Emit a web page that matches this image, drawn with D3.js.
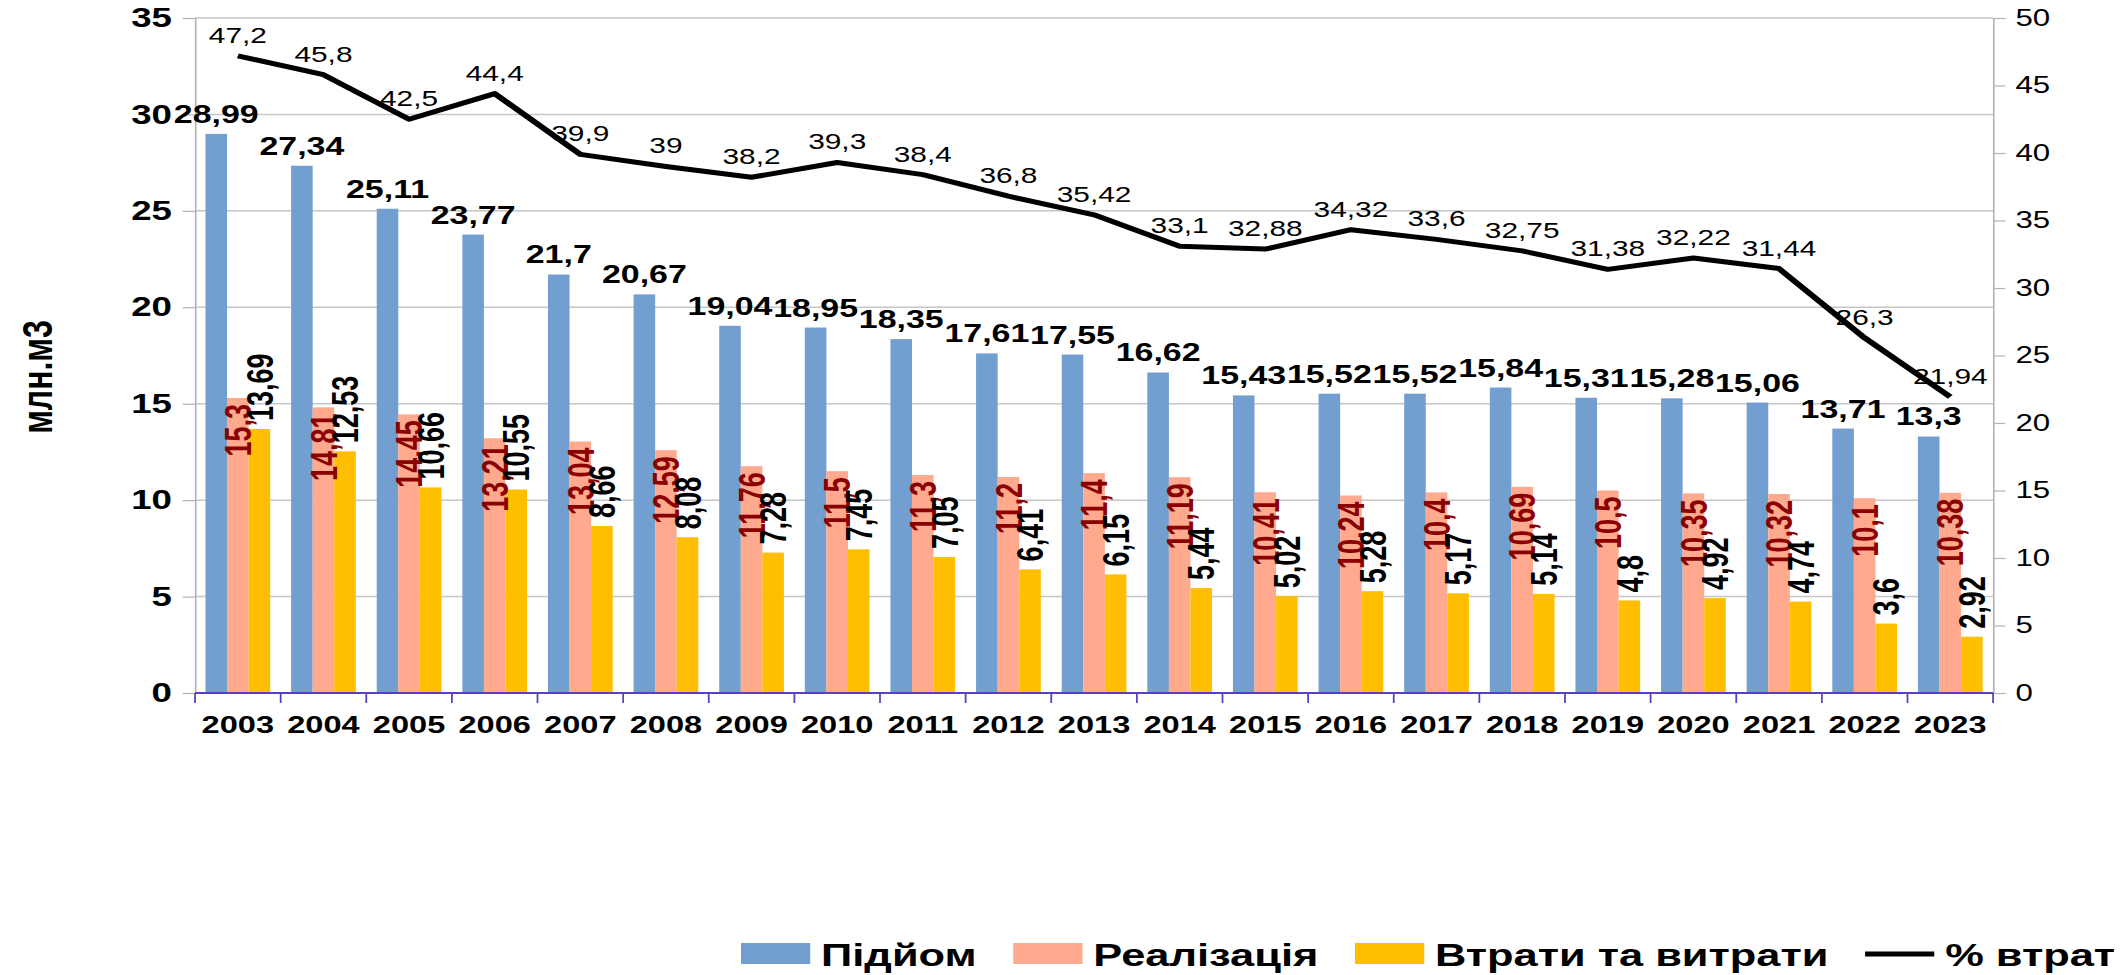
<!DOCTYPE html>
<html>
<head>
<meta charset="utf-8">
<script src="https://cdn.jsdelivr.net/npm/d3@7"></script>
<style>
  html, body { margin: 0; padding: 0; background: #fff; }
  text { font-family: "Liberation Sans", Arial, sans-serif; }
</style>
</head>
<body>
<svg id="chart"></svg>
<script>
var years = ["2003", "2004", "2005", "2006", "2007", "2008", "2009", "2010", "2011", "2012", "2013",
             "2014", "2015", "2016", "2017", "2018", "2019", "2020", "2021", "2022", "2023"];
var pidiom = [28.99, 27.34, 25.11, 23.77, 21.7, 20.67, 19.04, 18.95, 18.35, 17.61, 17.55,
              16.62, 15.43, 15.52, 15.52, 15.84, 15.31, 15.28, 15.06, 13.71, 13.3];
var realizatsiia = [15.3, 14.81, 14.45, 13.21, 13.04, 12.59, 11.76, 11.5, 11.3, 11.2, 11.4,
                    11.19, 10.41, 10.24, 10.4, 10.69, 10.5, 10.35, 10.32, 10.1, 10.38];
var vtraty = [13.69, 12.53, 10.66, 10.55, 8.66, 8.08, 7.28, 7.45, 7.05, 6.41, 6.15,
              5.44, 5.02, 5.28, 5.17, 5.14, 4.8, 4.92, 4.74, 3.6, 2.92];
var vidsotokVtrat = [47.2, 45.8, 42.5, 44.4, 39.9, 39, 38.2, 39.3, 38.4, 36.8, 35.42,
                     33.1, 32.88, 34.32, 33.6, 32.75, 31.38, 32.22, 31.44, 26.3, 21.94];
var seriesNames = ["Підйом", "Реалізація", "Втрати та витрати"];
var lineName = "% втрат";
var leftTicks = [0, 5, 10, 15, 20, 25, 30, 35];
var rightTicks = [0, 5, 10, 15, 20, 25, 30, 35, 40, 45, 50];

var width = 2128, height = 975;
// the original picture is stretched sideways, so draw narrow and scale x
var stretch = 2128 / 1568;
var plotLeft = 143.7, plotRight = 1468.6, plotTop = 18, plotBottom = 693;
var colors = ["#729fcf", "#ffa98f", "#ffbf00"];

var fmt = function(v) { return String(v).replace(".", ","); };

var svg = d3.select("#chart")
  .attr("width", width)
  .attr("height", height);

var g = svg.append("g")
  .attr("transform", "scale(" + stretch + ",1)");

var x = d3.scaleBand()
  .domain(years)
  .range([plotLeft, plotRight]);

var xInner = d3.scaleBand()
  .domain(seriesNames)
  .range([7.7, x.bandwidth() - 7.7]);

var y = d3.scaleLinear()
  .domain([0, 35])
  .range([plotBottom, plotTop]);

var y2 = d3.scaleLinear()
  .domain([0, 50])
  .range([plotBottom, plotTop]);

// grid
g.append("g")
  .selectAll("line")
  .data(leftTicks.slice(1))
  .enter()
  .append("line")
  .attr("x1", plotLeft)
  .attr("x2", plotRight)
  .attr("y1", d => y(d))
  .attr("y2", d => y(d))
  .attr("stroke", "#c6c6c6")
  .attr("stroke-width", 1.5);

// left axis
var leftAxis = g.append("g")
  .attr("transform", "translate(" + plotLeft + ",0)")
  .call(d3.axisLeft(y).tickValues(leftTicks).tickSize(9).tickPadding(8));
leftAxis.select(".domain").attr("stroke", "#b3b3b3").attr("stroke-width", 1.2);
leftAxis.selectAll(".tick line").attr("stroke", "#b3b3b3").attr("stroke-width", 1.2);
leftAxis.selectAll("text")
  .attr("font-family", "Liberation Sans, Arial, sans-serif")
  .attr("font-size", 27)
  .attr("font-weight", "bold")
  .attr("fill", "#000");

// right axis
var rightAxis = g.append("g")
  .attr("transform", "translate(" + plotRight + ",0)")
  .call(d3.axisRight(y2).tickValues(rightTicks).tickSize(9).tickPadding(7.5));
rightAxis.select(".domain").attr("stroke", "#b3b3b3").attr("stroke-width", 1.2);
rightAxis.selectAll(".tick line").attr("stroke", "#b3b3b3").attr("stroke-width", 1.2);
rightAxis.selectAll("text")
  .attr("font-family", "Liberation Sans, Arial, sans-serif")
  .attr("font-size", 23)
  .attr("fill", "#000");

// bars
var groups = g.append("g")
  .selectAll("g")
  .data(years)
  .enter()
  .append("g")
  .attr("transform", d => "translate(" + x(d) + ",0)");

var allSeries = [pidiom, realizatsiia, vtraty];

groups.selectAll("rect")
  .data((d, i) => seriesNames.map((s, k) => ({ name: s, k: k, value: allSeries[k][i] })))
  .enter()
  .append("rect")
  .attr("x", d => xInner(d.name))
  .attr("width", xInner.bandwidth())
  .attr("y", d => y(d.value))
  .attr("height", d => plotBottom - y(d.value))
  .attr("fill", d => colors[d.k]);

// bottom axis
var xAxis = g.append("g")
  .attr("transform", "translate(0," + plotBottom + ")")
  .call(d3.axisBottom(x).tickSize(0).tickPadding(0));
xAxis.select(".domain").remove();
xAxis.selectAll("text")
  .attr("y", 40)
  .attr("dy", 0)
  .attr("font-family", "Liberation Sans, Arial, sans-serif")
  .attr("font-size", 24)
  .attr("font-weight", "bold")
  .attr("fill", "#000");

var bounds = years.map(d => x(d)).concat([plotRight]);
xAxis.append("line")
  .attr("x1", plotLeft)
  .attr("x2", plotRight)
  .attr("stroke", "#5a40c0")
  .attr("stroke-width", 1.8);
xAxis.selectAll(".bound")
  .data(bounds)
  .enter()
  .append("line")
  .attr("class", "bound")
  .attr("x1", d => d)
  .attr("x2", d => d)
  .attr("y1", 0)
  .attr("y2", 10)
  .attr("stroke", "#5a40c0")
  .attr("stroke-width", 1.3);

// line
var cx = d => x(d) + x.bandwidth() / 2;
var line = d3.line()
  .x((d, i) => cx(years[i]))
  .y(d => y2(d));

g.append("path")
  .datum(vidsotokVtrat)
  .attr("d", line)
  .attr("fill", "none")
  .attr("stroke", "#000")
  .attr("stroke-width", 5)
  .attr("stroke-linejoin", "round");

// labels
var labels = g.append("g");

labels.selectAll(".lab-p")
  .data(pidiom)
  .enter()
  .append("text")
  .attr("x", (d, i) => x(years[i]) + xInner(seriesNames[0]) + xInner.bandwidth() / 2)
  .attr("y", d => y(d) - 11)
  .attr("text-anchor", "middle")
  .attr("font-size", 25)
  .attr("font-weight", "bold")
  .attr("fill", "#000")
  .text(fmt);

labels.selectAll(".lab-r")
  .data(realizatsiia)
  .enter()
  .append("text")
  .attr("transform", (d, i) => "translate(" + (x(years[i]) + xInner(seriesNames[1]) + xInner.bandwidth() / 2) +
        "," + (y(d) + 6) + ") rotate(-90)")
  .attr("dy", "0.36em")
  .attr("text-anchor", "end")
  .attr("font-size", 27)
  .attr("font-weight", "bold")
  .attr("fill", "#8b0000")
  .text(fmt);

labels.selectAll(".lab-v")
  .data(vtraty)
  .enter()
  .append("text")
  .attr("transform", (d, i) => "translate(" + (x(years[i]) + xInner(seriesNames[2]) + xInner.bandwidth() / 2) +
        "," + (y(d) - 8) + ") rotate(-90)")
  .attr("dy", "0.36em")
  .attr("text-anchor", "start")
  .attr("font-size", 27)
  .attr("font-weight", "bold")
  .attr("fill", "#000")
  .text(fmt);

labels.selectAll(".lab-l")
  .data(vidsotokVtrat)
  .enter()
  .append("text")
  .attr("x", (d, i) => cx(years[i]))
  .attr("y", d => y2(d) - 13)
  .attr("text-anchor", "middle")
  .attr("font-size", 22)
  .attr("fill", "#000")
  .text(fmt);

// y title
g.append("text")
  .attr("transform", "translate(27,377) rotate(-90)")
  .attr("dy", "0.36em")
  .attr("text-anchor", "middle")
  .attr("font-size", 32)
  .attr("font-weight", "bold")
  .text("млн.м3");

// legend
var legend = g.append("g");
var lx = 546;
var items = seriesNames.concat([lineName]);
items.forEach(function(name, i) {
  if (i < 3) {
    legend.append("rect")
      .attr("x", lx).attr("y", 943)
      .attr("width", 51).attr("height", 21)
      .attr("fill", colors[i]);
  } else {
    legend.append("line")
      .attr("x1", lx).attr("x2", lx + 51)
      .attr("y1", 954).attr("y2", 954)
      .attr("stroke", "#000").attr("stroke-width", 5);
  }
  var t = legend.append("text")
    .attr("x", lx + 59)
    .attr("y", 966)
    .attr("font-size", 32)
    .attr("font-weight", "bold")
    .text(name);
  lx += 59 + t.node().getComputedTextLength() + 27;
});
</script>
</body>
</html>
